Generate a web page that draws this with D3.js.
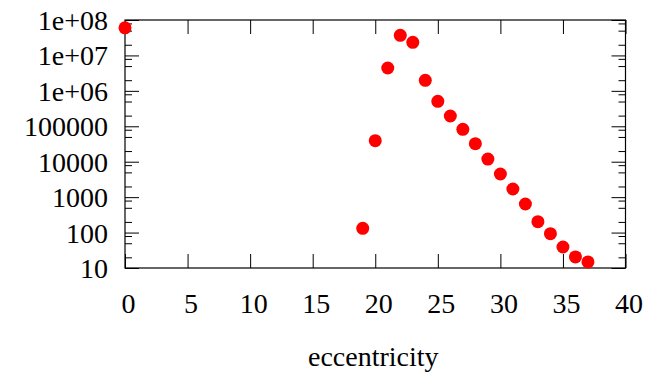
<!DOCTYPE html>
<html>
<head>
<meta charset="utf-8">
<script src="https://cdn.jsdelivr.net/npm/d3@7"></script>
<style>
  html, body { margin: 0; padding: 0; background: #fff; }
  svg { display: block; }
  text { font-family: "Liberation Serif", "Times New Roman", serif; fill: #000; }
</style>
</head>
<body>
<svg id="chart" width="648" height="373"></svg>
<script>
// Counts per eccentricity value
const eccentricity = [0, 19, 20, 21, 22, 23, 24, 25, 26, 27, 28, 29, 30, 31, 32, 33, 34, 35, 36, 37];
const counts = [6.0e7, 132, 39200, 4.42e6, 3.70e7, 2.35e7, 1.98e6, 5.07e5, 1.95e5, 8.2e4,
                3.23e4, 1.19e4, 4500, 1700, 641, 203, 93, 39.2, 20.5, 14.8];

const xTicks = [0, 5, 10, 15, 20, 25, 30, 35, 40];
const yTicks = [10, 100, 1000, 10000, 100000, 1e6, 1e7, 1e8];
const yTickLabels = ["10", "100", "1000", "10000", "100000", "1e+06", "1e+07", "1e+08"];
const yMinorMultipliers = [2, 5, 8];
const xLabel = "eccentricity";

const svg = d3.select("#chart");
const plotLeft = 125, plotRight = 625.5, plotTop = 20, plotBottom = 268;

const x = d3.scaleLinear().domain([0, 40]).range([plotLeft, plotRight]);
const y = d3.scaleLog().domain([10, 1e8]).range([plotBottom, plotTop]);

const yMinor = [];
yTicks.slice(0, -1).forEach(d => yMinorMultipliers.forEach(m => yMinor.push(d * m)));

const major = 14, minor = 7;
const fontSize = 28;

function styleAxis(g) {
  g.select(".domain").remove();
  g.selectAll(".tick line").attr("stroke", "#000").attr("stroke-width", 1);
}

// Major x ticks, bottom (with labels) and top
svg.append("g")
  .attr("transform", `translate(0,${plotBottom})`)
  .call(d3.axisBottom(x).tickValues(xTicks).tickSize(-major).tickPadding(0).tickFormat(d3.format("d")))
  .call(styleAxis)
  .call(g => g.selectAll(".tick text")
    .attr("font-size", fontSize).attr("dy", null).attr("y", 45).attr("dx", 3)
    .style("font-family", '"Liberation Serif", serif'));

svg.append("g")
  .attr("transform", `translate(0,${plotTop})`)
  .call(d3.axisTop(x).tickValues(xTicks).tickSize(-major).tickFormat(""))
  .call(styleAxis);

// Major y ticks, left (with labels) and right
svg.append("g")
  .attr("transform", `translate(${plotLeft},0)`)
  .call(d3.axisLeft(y).tickValues(yTicks).tickSize(-major).tickPadding(0)
    .tickFormat((d, i) => yTickLabels[i]))
  .call(styleAxis)
  .call(g => g.selectAll(".tick text")
    .attr("font-size", fontSize).attr("x", -17).attr("dy", "0.34em")
    .style("font-family", '"Liberation Serif", serif'));

svg.append("g")
  .attr("transform", `translate(${plotRight},0)`)
  .call(d3.axisRight(y).tickValues(yTicks).tickSize(-major).tickFormat(""))
  .call(styleAxis);

// Minor y ticks at 2, 5, 8 of each decade
svg.append("g")
  .attr("transform", `translate(${plotLeft},0)`)
  .call(d3.axisLeft(y).tickValues(yMinor).tickSize(-minor).tickFormat(""))
  .call(styleAxis);

svg.append("g")
  .attr("transform", `translate(${plotRight},0)`)
  .call(d3.axisRight(y).tickValues(yMinor).tickSize(-minor).tickFormat(""))
  .call(styleAxis);

// Frame
svg.append("rect")
  .attr("x", plotLeft).attr("y", plotTop)
  .attr("width", plotRight - plotLeft).attr("height", plotBottom - plotTop)
  .attr("fill", "none").attr("stroke", "#000").attr("stroke-width", 1.2);

// Points
svg.append("g")
  .selectAll("circle")
  .data(eccentricity.map((e, i) => ({ e, c: counts[i] })))
  .join("circle")
  .attr("cx", d => x(d.e))
  .attr("cy", d => y(d.c))
  .attr("r", 6.5)
  .attr("fill", "#ff0000");

// Axis title
svg.append("text")
  .attr("x", (plotLeft + plotRight) / 2 - 2)
  .attr("y", 365.5)
  .attr("text-anchor", "middle")
  .attr("font-size", fontSize)
  .text(xLabel);
</script>
</body>
</html>
